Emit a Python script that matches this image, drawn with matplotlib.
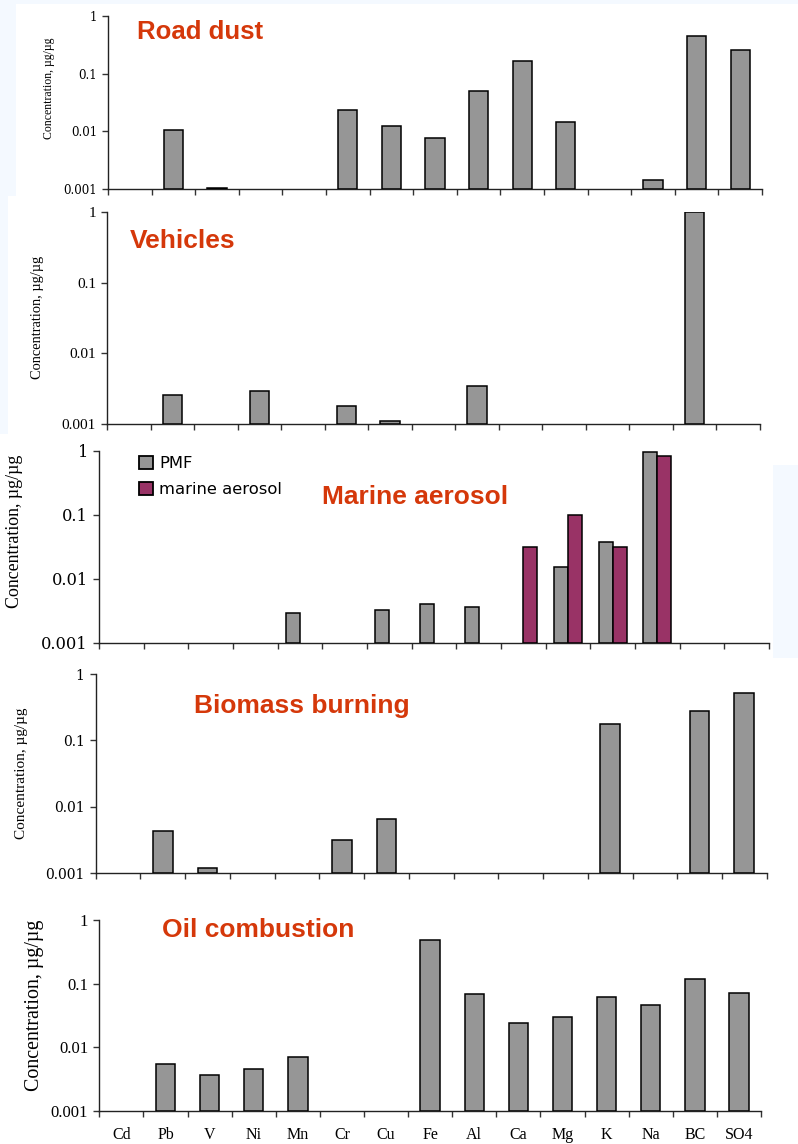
import numpy as np
import matplotlib
matplotlib.use("Agg")
import matplotlib.pyplot as plt
from matplotlib.patches import Rectangle, Patch

W, H = 798, 1144
DPI = 100

elements = ["Cd", "Pb", "V", "Ni", "Mn", "Cr", "Cu", "Fe", "Al", "Ca",
            "Mg", "K", "Na", "BC", "SO4"]

# Source profiles (µg/µg); None = not present in the profile
road_dust = [None, 0.0105, 0.00105, None, None, 0.0231, 0.0122, 0.00766,
             0.0493, 0.167, 0.0143, None, 0.00145, 0.443, 0.257]
vehicles = [None, 0.00259, None, 0.00295, None, 0.00179, 0.00112, None,
            0.00347, None, None, None, None, 1.0, None]
marine_pmf = [None, None, None, None, 0.00292, None, 0.00321, 0.00403,
              0.00358, None, 0.0155, 0.0373, 0.95, None, None]
marine_ref = [None, None, None, None, None, None, None, None,
              None, 0.0315, 0.1007, 0.0315, 0.85, None, None]
biomass = [None, 0.00429, 0.00119, None, None, 0.00314, 0.0065, None,
           None, None, None, 0.178, None, 0.281, 0.525]
oil = [None, 0.00542, 0.00364, 0.00457, 0.00698, None, None, 0.483,
       0.0684, 0.0242, 0.0301, 0.0614, 0.0465, 0.1175, 0.0716]

titles = ["Road dust", "Vehicles", "Marine aerosol", "Biomass burning",
          "Oil combustion"]
ytick_vals = [0.001, 0.01, 0.1, 1]
ytick_text = ["0.001", "0.01", "0.1", "1"]

GRAY = "#969696"
PLUM = "#993366"
TITLE_C = "#D5380A"
SERIF = ["Liberation Serif", "DejaVu Serif"]
WIDE_SERIF = ["DejaVu Serif"]
SANS = ["Liberation Sans", "DejaVu Sans"]

fig = plt.figure(figsize=(W / DPI, H / DPI), dpi=DPI, facecolor="#F4F9FF")

# white backing sheets of the individual chart pieces
for (x0, y0, x1, y1) in [(16, 4, 798, 197), (8, 196, 798, 436),
                         (0, 434, 773, 662), (0, 434, 798, 465),
                         (0, 658, 798, 1144)]:
    fig.patches.append(Rectangle((x0 / W, 1 - y1 / H), (x1 - x0) / W,
                                 (y1 - y0) / H, transform=fig.transFigure,
                                 facecolor="white", edgecolor="none",
                                 zorder=-5))


def make_axes(left, right, top, bottom):
    ax = fig.add_axes([left / W, 1 - bottom / H, (right - left) / W,
                       (bottom - top) / H])
    ax.set_zorder(2)
    return ax


def style_axes(ax, tick_fs, tick_family, show_xlabels=False):
    ax.set_yscale("log")
    ax.set_ylim(0.001, 1)
    ax.set_xlim(0, len(elements))
    ax.patch.set_visible(False)
    for s in ("top", "right"):
        ax.spines[s].set_visible(False)
    for s in ("left", "bottom"):
        ax.spines[s].set_linewidth(1.0)
        ax.spines[s].set_color("#222222")
    ax.set_yticks(ytick_vals)
    ax.set_yticklabels(ytick_text, family=tick_family, fontsize=tick_fs)
    ax.yaxis.set_minor_locator(matplotlib.ticker.NullLocator())
    ax.set_xticks(np.arange(len(elements) + 1))
    ax.set_xticklabels([])
    ax.tick_params(axis="both", which="major", direction="out", length=4,
                   width=1, color="#333333")
    ax.tick_params(axis="y", pad=4)
    if show_xlabels:
        ax.set_xticks(np.arange(len(elements)) + 0.5, minor=True)
        ax.set_xticklabels(elements, minor=True, family=SERIF, fontsize=11.5)
        ax.tick_params(axis="x", which="minor", length=0, pad=12)
    else:
        ax.xaxis.set_minor_locator(matplotlib.ticker.NullLocator())


def draw_single(ax, vals, width=0.44):
    xs = [i + 0.5 for i, v in enumerate(vals) if v is not None]
    hs = [v for v in vals if v is not None]
    ax.bar(xs, [h - 0.001 for h in hs], bottom=0.001, width=width,
           color=GRAY, edgecolor="black", linewidth=1.1, zorder=3)


def title(text, x, y, fs=19):
    fig.text(x / W, 1 - y / H, text, color=TITLE_C, fontsize=fs,
             fontweight="bold", family=SANS, ha="left", va="baseline",
             zorder=5)


def ylabel(text, x, y, fs):
    fig.text(x / W, 1 - y / H, text, rotation=90, family=SERIF,
             fontsize=fs, ha="center", va="center", zorder=5)


# Road dust
ax1 = make_axes(108, 762, 16, 189)
style_axes(ax1, 8.5, WIDE_SERIF)
draw_single(ax1, road_dust)
title(titles[0], 137, 39, 18.5)
ylabel("Concentration, µg/µg", 49, 88, 8.5)

# Vehicles
ax2 = make_axes(107, 760, 211.7, 424.3)
style_axes(ax2, 11, SERIF)
draw_single(ax2, vehicles)
title(titles[1], 130, 248)
ylabel("Concentration, µg/µg", 37, 317, 10.4)

# Marine aerosol: PMF profile vs. reference marine aerosol composition
ax3 = make_axes(99, 769, 451, 642.7)
style_axes(ax3, 11.7, WIDE_SERIF)
bw = 0.31
xs_p = [i + 0.5 - bw / 2 for i, v in enumerate(marine_pmf) if v is not None]
hs_p = [v for v in marine_pmf if v is not None]
xs_m = [i + 0.5 + bw / 2 for i, v in enumerate(marine_ref) if v is not None]
hs_m = [v for v in marine_ref if v is not None]
ax3.bar(xs_p, [h - 0.001 for h in hs_p], bottom=0.001, width=bw,
        color=GRAY, edgecolor="black", linewidth=1.1, zorder=3)
ax3.bar(xs_m, [h - 0.001 for h in hs_m], bottom=0.001, width=bw,
        color=PLUM, edgecolor="black", linewidth=1.1, zorder=3)
title(titles[2], 322, 504)
ylabel("Concentration, µg/µg", 15, 531, 12.9)
handles = [Patch(facecolor=GRAY, edgecolor="black", linewidth=1.3),
           Patch(facecolor=PLUM, edgecolor="black", linewidth=1.3)]
ax3.legend(handles, ["PMF", "marine aerosol"], loc="upper left",
           bbox_to_anchor=((139 - 99) / (769 - 99), 0.975), frameon=False,
           borderpad=0, borderaxespad=0,
           handlelength=0.85, handleheight=0.85, handletextpad=0.4,
           labelspacing=0.68, prop={"family": ["DejaVu Sans"], "size": 11.8})

# Biomass burning
ax4 = make_axes(95.7, 766.7, 674, 873.3)
style_axes(ax4, 10, WIDE_SERIF)
draw_single(ax4, biomass)
title(titles[3], 194, 713)
ylabel("Concentration, µg/µg", 22, 773, 11)

# Oil combustion
ax5 = make_axes(99.3, 761, 920, 1110.7)
style_axes(ax5, 12, SERIF, show_xlabels=True)
draw_single(ax5, oil)
title(titles[4], 162, 937)
ylabel("Concentration, µg/µg", 35, 1005, 14.4)

fig.savefig("out.png", dpi=DPI, facecolor=fig.get_facecolor())
